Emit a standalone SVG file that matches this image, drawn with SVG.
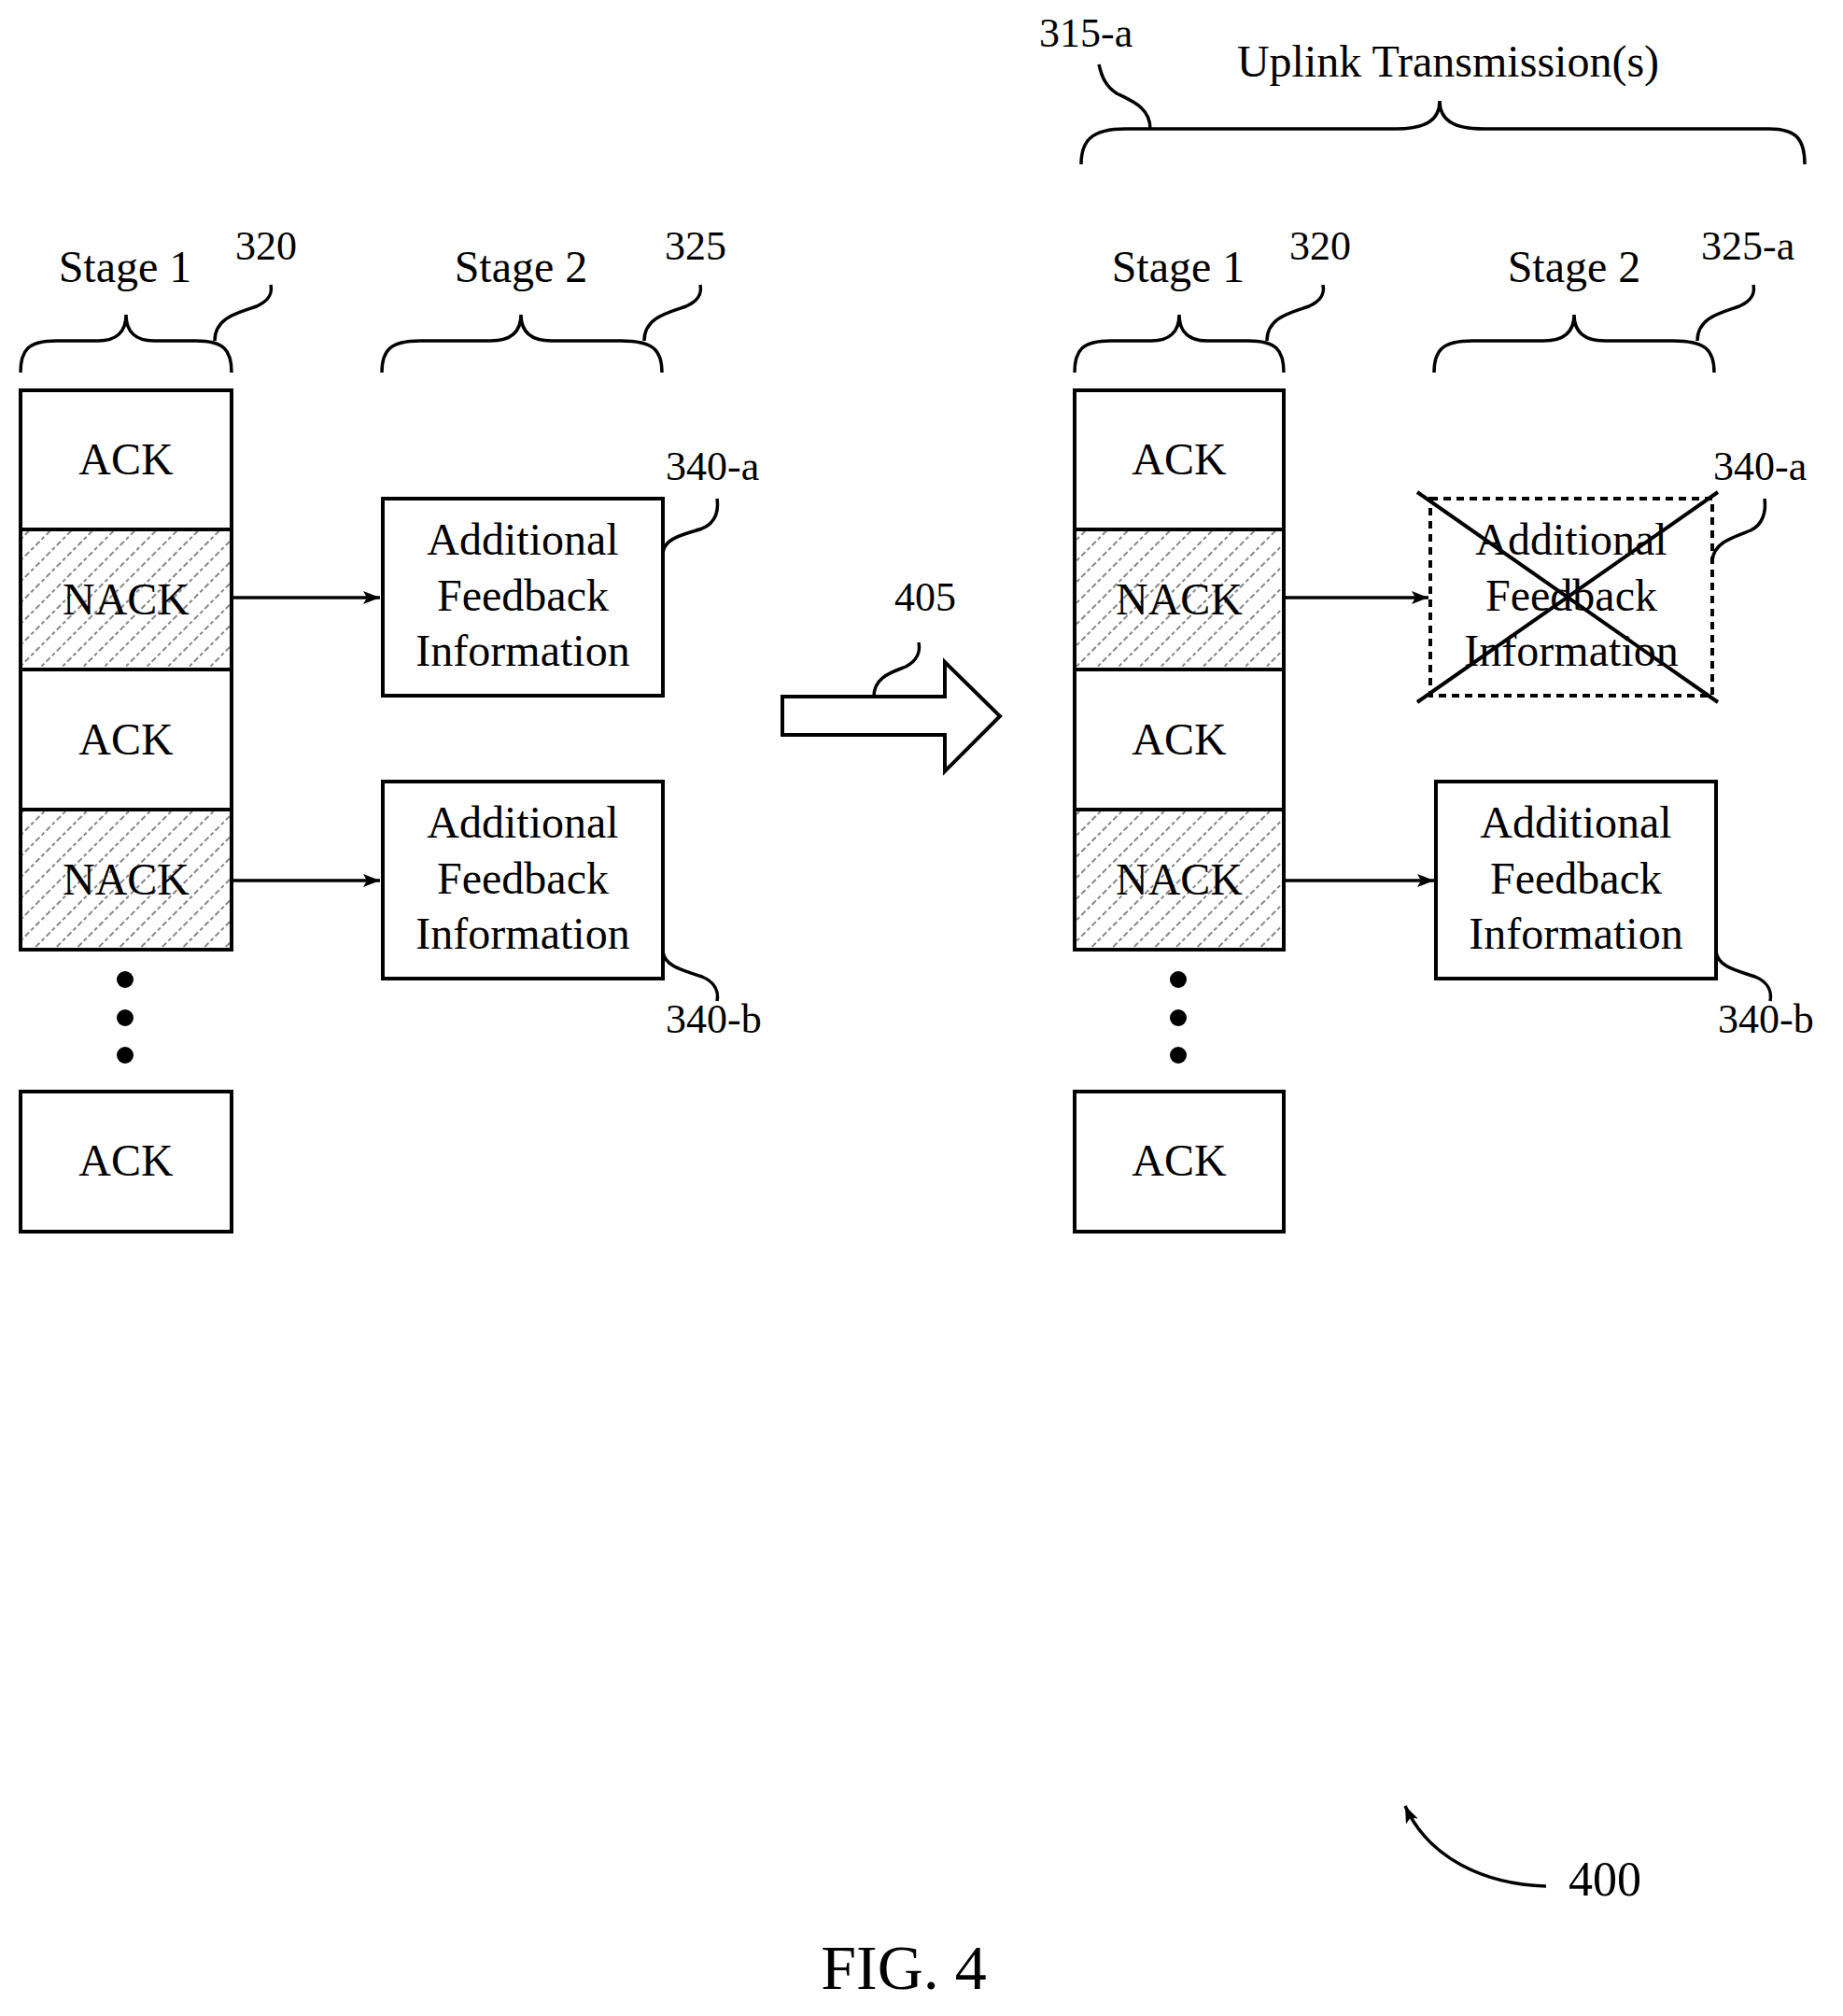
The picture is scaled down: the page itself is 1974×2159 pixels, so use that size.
<svg xmlns="http://www.w3.org/2000/svg" width="1974" height="2159" viewBox="0 0 1974 2159">
<style>
text{font-family:"Liberation Serif","Times New Roman",serif;fill:#000;font-size:48px}
.m{text-anchor:middle}
.n{font-size:44px}
.b{fill:#fff;stroke:#000;stroke-width:4}
.h{fill:url(#hatch);stroke:#000;stroke-width:4}
.l{fill:none;stroke:#000;stroke-width:3.5}
.c{stroke:#000;stroke-width:3.5;fill:none}
</style>
<defs>
<pattern id="hatch" width="16" height="16" patternUnits="userSpaceOnUse" patternTransform="rotate(-45)">
<rect width="16" height="16" fill="#fff"/>
<line x1="0" y1="8" x2="16" y2="8" stroke="#888" stroke-width="2" stroke-dasharray="4,3"/>
</pattern>
<marker id="ar" viewBox="0 0 18 14" refX="18" refY="7" markerWidth="18" markerHeight="14" markerUnits="userSpaceOnUse" orient="auto">
<path d="M0,0 L18,7 L0,14 L4,7 z" fill="#000"/>
</marker>
</defs>

<g id="left-stage1">
<path class="l" d="M22,399 C22,375 30,365 60,365 L105,365 C125,365 135,355 135,337 C135,355 145,365 165,365 L210,365 C240,365 248,375 248,399"/>
<text class="m" x="134" y="302">Stage 1</text>
<text class="n" x="252" y="278">320</text>
<path class="l" d="M230,365 C230,340 255,335 275,328 C288,322 292,315 290,305"/>
<rect class="b" x="22" y="418" width="226" height="149"/>
<text class="m" x="135" y="508">ACK</text>
<rect class="h" x="22" y="567" width="226" height="150"/>
<text class="m" x="135" y="658">NACK</text>
<rect class="b" x="22" y="717" width="226" height="150"/>
<text class="m" x="135" y="808">ACK</text>
<rect class="h" x="22" y="867" width="226" height="150"/>
<text class="m" x="135" y="958">NACK</text>
<circle cx="134" cy="1049" r="9"/><circle cx="134" cy="1090" r="9"/><circle cx="134" cy="1130" r="9"/>
<rect class="b" x="22" y="1169" width="226" height="150"/>
<text class="m" x="135" y="1259">ACK</text>
</g>

<g id="left-stage2">
<path class="l" d="M409,399 C409,375 418,365 450,365 L525,365 C548,365 558,355 558,337 C558,355 568,365 591,365 L665,365 C700,365 709,375 709,399"/>
<text class="m" x="558" y="302">Stage 2</text>
<text class="n" x="712" y="278">325</text>
<path class="l" d="M690,365 C690,340 715,335 735,328 C748,322 752,315 750,305"/>
</g>

<g id="box-340a-left">
<rect class="b" x="410" y="534" width="300" height="211"/>
<text class="m" x="560" y="594">Additional</text>
<text class="m" x="560" y="654">Feedback</text>
<text class="m" x="560" y="713">Information</text>
<text class="n" x="713" y="514">340-a</text>
<path class="l" d="M710,592 C712,575 735,572 752,566 C766,560 770,548 768,534"/>
</g>
<g id="box-340b-left">
<rect class="b" x="410" y="837" width="300" height="211"/>
<text class="m" x="560" y="897">Additional</text>
<text class="m" x="560" y="957">Feedback</text>
<text class="m" x="560" y="1016">Information</text>
<text class="n" x="713" y="1106">340-b</text>
<path class="l" d="M710,1019 C712,1036 735,1040 752,1046 C766,1052 770,1062 768,1072"/>
</g>

<g id="arrow-405">
<path fill="#fff" stroke="#000" stroke-width="4" d="M838,746 L1012,746 L1012,709 L1071,767 L1012,826 L1012,787 L838,787 Z"/>
<text class="n" x="958" y="654">405</text>
<path class="l" d="M936,746 C936,725 955,720 970,714 C982,708 986,698 984,688"/>
</g>

<g id="uplink">
<path class="l" d="M1158,176 C1158,150 1170,138 1205,138 L1495,138 C1528,138 1542,128 1542,108 C1542,128 1556,138 1589,138 L1895,138 C1925,138 1933,150 1933,176"/>
<text class="m" x="1551" y="82">Uplink Transmission(s)</text>
<text class="n" x="1113" y="50">315-a</text>
<path class="l" d="M1232,138 C1232,115 1212,108 1196,100 C1184,92 1180,82 1177,69"/>
</g>

<g id="right-stage1">
<path class="l" d="M1151,399 C1151,375 1159,365 1190,365 L1233,365 C1253,365 1263,355 1263,337 C1263,355 1273,365 1293,365 L1337,365 C1367,365 1375,375 1375,399"/>
<text class="m" x="1262" y="302">Stage 1</text>
<text class="n" x="1381" y="278">320</text>
<path class="l" d="M1357,365 C1357,340 1382,335 1402,328 C1415,322 1419,315 1417,305"/>
<rect class="b" x="1151" y="418" width="224" height="149"/>
<text class="m" x="1263" y="508">ACK</text>
<rect class="h" x="1151" y="567" width="224" height="150"/>
<text class="m" x="1263" y="658">NACK</text>
<rect class="b" x="1151" y="717" width="224" height="150"/>
<text class="m" x="1263" y="808">ACK</text>
<rect class="h" x="1151" y="867" width="224" height="150"/>
<text class="m" x="1263" y="958">NACK</text>
<circle cx="1262" cy="1049" r="9"/><circle cx="1262" cy="1090" r="9"/><circle cx="1262" cy="1130" r="9"/>
<rect class="b" x="1151" y="1169" width="224" height="150"/>
<text class="m" x="1263" y="1259">ACK</text>
</g>

<g id="right-stage2">
<path class="l" d="M1536,399 C1536,375 1545,365 1577,365 L1653,365 C1676,365 1686,355 1686,337 C1686,355 1696,365 1719,365 L1792,365 C1827,365 1836,375 1836,399"/>
<text class="m" x="1686" y="302">Stage 2</text>
<text class="n" x="1822" y="278">325-a</text>
<path class="l" d="M1818,365 C1818,340 1843,335 1863,328 C1876,322 1880,315 1878,305"/>
</g>

<g id="box-340a-right">
<rect fill="#fff" stroke="#000" stroke-width="4" stroke-dasharray="8,6" x="1532" y="534" width="302" height="211"/>
<text class="m" x="1683" y="594">Additional</text>
<text class="m" x="1683" y="654">Feedback</text>
<text class="m" x="1683" y="713">Information</text>
<line x1="1518" y1="527" x2="1840" y2="752" stroke="#000" stroke-width="4"/>
<line x1="1518" y1="752" x2="1840" y2="527" stroke="#000" stroke-width="4"/>
<text class="n" x="1835" y="514">340-a</text>
<path class="l" d="M1834,600 C1836,580 1858,575 1875,568 C1888,562 1892,548 1890,534"/>
</g>
<g id="box-340b-right">
<rect class="b" x="1538" y="837" width="300" height="211"/>
<text class="m" x="1688" y="897">Additional</text>
<text class="m" x="1688" y="957">Feedback</text>
<text class="m" x="1688" y="1016">Information</text>
<text class="n" x="1840" y="1106">340-b</text>
<path class="l" d="M1838,1019 C1840,1036 1862,1040 1880,1046 C1894,1052 1898,1062 1896,1072"/>
</g>

<g id="connectors">
<line class="c" x1="248" y1="640" x2="407" y2="640" marker-end="url(#ar)"/>
<line class="c" x1="248" y1="943" x2="407" y2="943" marker-end="url(#ar)"/>
<line class="c" x1="1375" y1="640" x2="1530" y2="640" marker-end="url(#ar)"/>
<line class="c" x1="1375" y1="943" x2="1536" y2="943" marker-end="url(#ar)"/>
</g>

<g id="label-400">
<text x="1680" y="2030" style="font-size:52px">400</text>
<path class="c" d="M1656,2020 C1590,2018 1530,1990 1505,1934" marker-end="url(#ar)"/>
</g>
<text class="m" x="968" y="2130" style="font-size:68px">FIG. 4</text>
</svg>
